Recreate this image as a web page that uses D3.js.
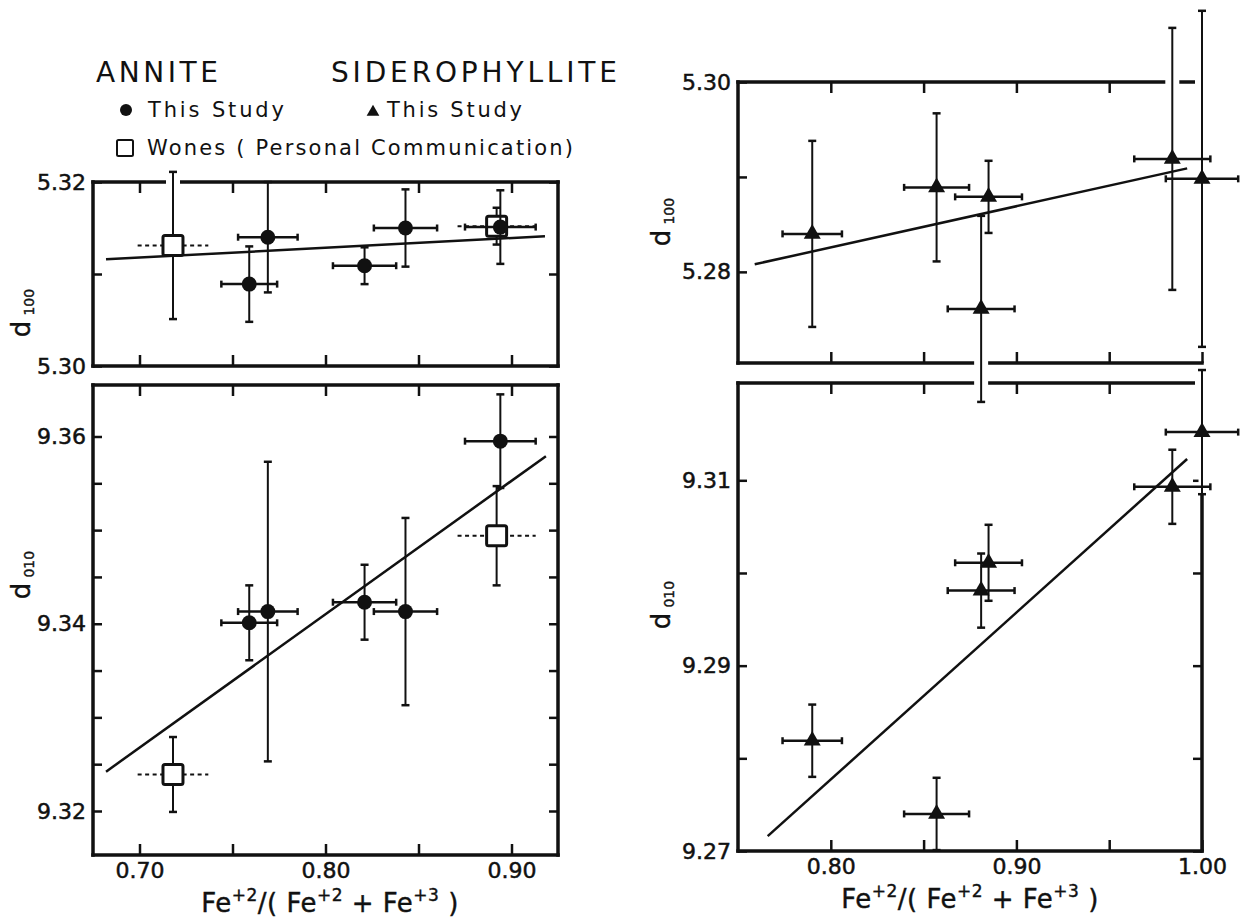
<!DOCTYPE html>
<html>
<head>
<meta charset="utf-8">
<script src="https://cdn.jsdelivr.net/npm/d3@7"></script>
<style>
  html, body { margin: 0; padding: 0; background: #fff; }
  svg { display: block; }
  text { font-family: "DejaVu Sans", sans-serif; fill: #111; }
</style>
</head>
<body>
<svg id="chart" width="1250" height="920"></svg>
<script>
// ---- data ----

// annite, this study (filled circles)
var anniteFe = [0.759, 0.769, 0.821, 0.843, 0.894];
var anniteFeErr = [0.015, 0.016, 0.017, 0.017, 0.019];
var anniteD100 = [5.3089, 5.3140, 5.3109, 5.3150, 5.3151];
var anniteD100Err = [0.0041, 0.0060, 0.0020, 0.0042, 0.0040];
var anniteD010 = [9.3401, 9.3413, 9.3423, 9.3413, 9.3595];
var anniteD010Err = [0.0040, 0.0160, 0.0040, 0.0100, 0.0050];

// annite, Wones personal communication (open squares, dashed x error)
var wonesFe = [0.718, 0.892];
var wonesFeErr = [0.019, 0.021];
var wonesD100 = [5.3131, 5.3152];
var wonesD100Err = [0.0080, 0.0020];
var wonesD010 = [9.3239, 9.3494];
var wonesD010Err = [0.0040, 0.0053];

// siderophyllite, this study (filled triangles)
var sidFe = [0.790, 0.857, 0.881, 0.885, 0.984, 1.000];
var sidFeErr = [0.016, 0.0175, 0.018, 0.018, 0.0205, 0.0195];
var sidD100 = [5.2840, 5.2889, 5.2761, 5.2879, 5.2919, 5.2898];
var sidD100Err = [0.0098, 0.0078, 0.0098, 0.0038, 0.0138, 0.0177];
var sidD010 = [9.2819, 9.2740, 9.2981, 9.3011, 9.3093, 9.3152];
var sidD010Err = [0.0039, 0.0039, 0.0040, 0.0041, 0.0040, 0.0067];

// fitted lines (end points as drawn)
var fitAnniteD100 = [[0.682, 5.3116], [0.918, 5.3141]];
var fitAnniteD010 = [[0.682, 9.3242], [0.9185, 9.3579]];
var fitSidD100 = [[0.759, 5.2808], [0.992, 5.2909]];
var fitSidD010 = [[0.766, 9.2716], [0.992, 9.3123]];

// ticks
var anniteFeTicks = [0.70, 0.75, 0.80, 0.85, 0.90];
var anniteFeLabels = [0.70, 0.80, 0.90];
var sidFeTicks = [0.80, 0.85, 0.90, 0.95, 1.00];
var sidFeLabels = [0.80, 0.90, 1.00];
var anniteD100Ticks = [5.30, 5.31, 5.32];
var anniteD100Labels = [5.30, 5.32];
var anniteD010Ticks = [9.32, 9.325, 9.33, 9.335, 9.34, 9.345, 9.35, 9.355, 9.36];
var anniteD010Labels = [9.32, 9.34, 9.36];
var sidD100Ticks = [5.28, 5.29, 5.30];
var sidD100Labels = [5.28, 5.30];
var sidD010Ticks = [9.27, 9.28, 9.29, 9.30, 9.31];
var sidD010Labels = [9.27, 9.29, 9.31];

// ---- layout ----
var svg = d3.select("#chart");
var ink = "#111";
var fmt = d3.format(".2f");

var frameLayer = svg.append("g").attr("class", "frames");
var haloLayer = svg.append("g").attr("class", "halos");
var dataLayer = svg.append("g").attr("class", "data");

function inList(list, v) {
  return list.some(function (a) { return Math.abs(a - v) < 1e-9; });
}

/*
  drawPanel: frame, inward ticks, labels; returns the scales
*/
function drawPanel(p) {
  var x = d3.scaleLinear().domain(p.xDomain).range([p.left, p.right]);
  var y = d3.scaleLinear().domain(p.yDomain).range([p.bottom, p.top]);

  var g = frameLayer.append("g");

  // ticks (inward) with labels
  var bottomAxis = d3.axisBottom(x)
    .tickValues(p.xTicks)
    .tickSizeInner(-11).tickSizeOuter(0).tickPadding(7)
    .tickFormat(function (d) { return inList(p.xLabels, d) ? fmt(d) : ""; });
  var topAxis = d3.axisTop(x)
    .tickValues(p.xTicks)
    .tickSizeInner(-11).tickSizeOuter(0)
    .tickFormat("");
  var leftAxis = d3.axisLeft(y)
    .tickValues(p.yTicks)
    .tickSizeInner(-9).tickSizeOuter(0).tickPadding(7)
    .tickFormat(function (d) { return inList(p.yLabels, d) ? fmt(d) : ""; });
  var rightAxis = d3.axisRight(y)
    .tickValues(p.yTicks)
    .tickSizeInner(-9).tickSizeOuter(0)
    .tickFormat("");

  var axes = [
    { axis: bottomAxis, t: "translate(0," + p.bottom + ")" },
    { axis: topAxis, t: "translate(0," + p.top + ")" },
    { axis: leftAxis, t: "translate(" + p.left + ",0)" }
  ];
  if (p.rightEdge) axes.push({ axis: rightAxis, t: "translate(" + p.right + ",0)" });

  axes.forEach(function (a) {
    var ga = g.append("g").attr("transform", a.t).call(a.axis);
    ga.select(".domain").remove();
    ga.attr("color", ink).attr("font-family", "DejaVu Sans").attr("font-size", 22);
    ga.selectAll("line").attr("stroke-width", 2.5);
    ga.selectAll("text").attr("fill", ink).attr("stroke", ink).attr("stroke-width", 0.5);
  });

  // frame
  var edges = [
    [p.left, p.top, p.right, p.top],
    [p.left, p.bottom, p.right, p.bottom],
    [p.left, p.top, p.left, p.bottom]
  ];
  if (p.rightEdge) edges.push([p.right, p.top, p.right, p.bottom]);
  g.selectAll("line.edge")
    .data(edges)
    .enter()
    .append("line")
    .attr("class", "edge")
    .attr("x1", function (d) { return d[0]; })
    .attr("y1", function (d) { return d[1]; })
    .attr("x2", function (d) { return d[2]; })
    .attr("y2", function (d) { return d[3]; })
    .attr("stroke", ink)
    .attr("stroke-width", 3.5)
    .attr("stroke-linecap", "square");

  return { x: x, y: y, p: p };
}

/*
  drawSeries: error bars for one set of points (markers added after)
*/
function drawSeries(s, fe, feErr, val, valErr, dashedX) {
  var x = s.x, y = s.y, p = s.p;
  var rows = fe.map(function (d, i) {
    return { fe: d, fe0: d - feErr[i], fe1: d + feErr[i], v: val[i], v0: val[i] - valErr[i], v1: val[i] + valErr[i] };
  });

  // white gaps where bars leave the frame
  rows.forEach(function (r) {
    var xp = x(r.fe);
    if (Math.abs(xp - p.right) < 2) {
      // bar running along the right edge replaces the frame there
      haloLayer.append("line")
        .attr("x1", xp).attr("x2", xp)
        .attr("y1", y(r.v1)).attr("y2", y(r.v0))
        .attr("stroke", "#fff").attr("stroke-width", 7);
    }
    if (y(r.v1) < p.top - 1) {
      haloLayer.append("line")
        .attr("x1", xp).attr("x2", xp)
        .attr("y1", p.top + 2.5).attr("y2", y(r.v1) - 2)
        .attr("stroke", "#fff").attr("stroke-width", 14);
    }
    if (y(r.v0) > p.bottom + 1) {
      haloLayer.append("line")
        .attr("x1", xp).attr("x2", xp)
        .attr("y1", p.bottom - 2.5).attr("y2", y(r.v0) + 2)
        .attr("stroke", "#fff").attr("stroke-width", 14);
    }
  });

  var g = dataLayer.append("g");

  // horizontal error bars
  g.selectAll("line.xerr")
    .data(rows)
    .enter()
    .append("line")
    .attr("x1", function (d) { return x(d.fe0); })
    .attr("x2", function (d) { return x(d.fe1); })
    .attr("y1", function (d) { return y(d.v); })
    .attr("y2", function (d) { return y(d.v); })
    .attr("stroke", ink)
    .attr("stroke-width", dashedX ? 2 : 2.5)
    .attr("stroke-dasharray", dashedX ? "4,3.5" : null);

  if (!dashedX) {
    rows.forEach(function (d) {
      [d.fe0, d.fe1].forEach(function (e) {
        g.append("line")
          .attr("x1", x(e)).attr("x2", x(e))
          .attr("y1", y(d.v) - 3.5).attr("y2", y(d.v) + 3.5)
          .attr("stroke", ink).attr("stroke-width", 2.5);
      });
    });
  }

  // vertical error bars with caps
  g.selectAll("line.yerr")
    .data(rows)
    .enter()
    .append("line")
    .attr("x1", function (d) { return x(d.fe); })
    .attr("x2", function (d) { return x(d.fe); })
    .attr("y1", function (d) { return y(d.v0); })
    .attr("y2", function (d) { return y(d.v1); })
    .attr("stroke", ink)
    .attr("stroke-width", 2);
  rows.forEach(function (d) {
    [d.v0, d.v1].forEach(function (e) {
      g.append("line")
        .attr("x1", x(d.fe) - 4).attr("x2", x(d.fe) + 4)
        .attr("y1", y(e)).attr("y2", y(e))
        .attr("stroke", ink).attr("stroke-width", 2.5);
    });
  });

  return { g: g, rows: rows };
}

function drawMarkers(s, series, marker) {
  var x = s.x, y = s.y;
  var g = series.g;
  if (marker === "circle") {
    g.selectAll("circle.pt")
      .data(series.rows)
      .enter()
      .append("circle")
      .attr("cx", function (d) { return x(d.fe); })
      .attr("cy", function (d) { return y(d.v); })
      .attr("r", 7.5)
      .attr("fill", ink);
  } else if (marker === "square") {
    g.selectAll("rect.pt")
      .data(series.rows)
      .enter()
      .append("rect")
      .attr("x", function (d) { return x(d.fe) - 10; })
      .attr("y", function (d) { return y(d.v) - 10; })
      .attr("width", 20)
      .attr("height", 20)
      .attr("rx", 2)
      .attr("fill", "#fff")
      .attr("stroke", ink)
      .attr("stroke-width", 3);
  } else {
    var tri = d3.symbol().type(d3.symbolTriangle).size(125);
    g.selectAll("path.pt")
      .data(series.rows)
      .enter()
      .append("path")
      .attr("d", tri)
      .attr("transform", function (d) { return "translate(" + x(d.fe) + "," + y(d.v) + ")"; })
      .attr("fill", ink);
  }
}

function drawFit(s, pts) {
  dataLayer.append("path")
    .datum(pts)
    .attr("d", d3.line().x(function (d) { return s.x(d[0]); }).y(function (d) { return s.y(d[1]); }))
    .attr("fill", "none")
    .attr("stroke", ink)
    .attr("stroke-width", 2.5);
}

// ---- panels ----
var upperLeft = drawPanel({
  left: 93, right: 558, top: 182, bottom: 366,
  xDomain: [0.675, 0.925], yDomain: [5.30, 5.32],
  xTicks: anniteFeTicks, xLabels: [],
  yTicks: anniteD100Ticks, yLabels: anniteD100Labels, rightEdge: true
});
var lowerLeft = drawPanel({
  left: 93, right: 558, top: 385, bottom: 855,
  xDomain: [0.675, 0.925], yDomain: [9.3153, 9.3655],
  xTicks: anniteFeTicks, xLabels: anniteFeLabels,
  yTicks: anniteD010Ticks, yLabels: anniteD010Labels, rightEdge: true
});
var upperRight = drawPanel({
  left: 738, right: 1202, top: 82, bottom: 363,
  xDomain: [0.75, 1.00], yDomain: [5.2704, 5.30],
  xTicks: sidFeTicks, xLabels: [],
  yTicks: sidD100Ticks, yLabels: sidD100Labels, rightEdge: false
});
var lowerRight = drawPanel({
  left: 738, right: 1202, top: 383, bottom: 851,
  xDomain: [0.75, 1.00], yDomain: [9.27, 9.3205],
  xTicks: sidFeTicks, xLabels: sidFeLabels,
  yTicks: sidD010Ticks, yLabels: sidD010Labels, rightEdge: true
});

// fits under the points
drawFit(upperLeft, fitAnniteD100);
drawFit(lowerLeft, fitAnniteD010);
drawFit(upperRight, fitSidD100);
drawFit(lowerRight, fitSidD010);

var w100 = drawSeries(upperLeft, wonesFe, wonesFeErr, wonesD100, wonesD100Err, true);
var a100 = drawSeries(upperLeft, anniteFe, anniteFeErr, anniteD100, anniteD100Err, false);
drawMarkers(upperLeft, w100, "square");
drawMarkers(upperLeft, a100, "circle");

var w010 = drawSeries(lowerLeft, wonesFe, wonesFeErr, wonesD010, wonesD010Err, true);
var a010 = drawSeries(lowerLeft, anniteFe, anniteFeErr, anniteD010, anniteD010Err, false);
drawMarkers(lowerLeft, w010, "square");
drawMarkers(lowerLeft, a010, "circle");

var s100 = drawSeries(upperRight, sidFe, sidFeErr, sidD100, sidD100Err, false);
drawMarkers(upperRight, s100, "triangle");
var s010 = drawSeries(lowerRight, sidFe, sidFeErr, sidD010, sidD010Err, false);
drawMarkers(lowerRight, s010, "triangle");

// ---- axis titles ----
function yTitle(xb, yc, sub) {
  var t = svg.append("text")
    .attr("transform", "translate(" + xb + "," + yc + ") rotate(-90)")
    .attr("text-anchor", "middle")
    .attr("font-size", 26)
    .attr("stroke", ink).attr("stroke-width", 0.4);
  t.append("tspan").text("d");
  t.append("tspan").attr("font-size", 14).attr("dx", 5).attr("dy", 4).text(sub);
}
yTitle(30, 313, "100");
yTitle(30, 575, "010");
yTitle(670, 222, "100");
yTitle(670, 605, "010");

function xTitle(xc, yb) {
  var t = svg.append("text")
    .attr("x", xc).attr("y", yb)
    .attr("text-anchor", "middle")
    .attr("font-size", 26)
    .attr("letter-spacing", 0.5)
    .attr("stroke", ink).attr("stroke-width", 0.4);
  var parts = [
    ["Fe", 0], ["+2", -1], ["/( Fe", 1], ["+2", -1], [" + Fe", 1], ["+3", -1], [" )", 1]
  ];
  parts.forEach(function (d) {
    var ts = t.append("tspan").text(d[0]);
    if (d[1] === -1) ts.attr("font-size", 17).attr("dy", -11);
    if (d[1] === 1) ts.attr("dy", 11);
  });
}
xTitle(330, 912);
xTitle(970, 908);

// ---- legend ----
svg.append("text").attr("x", 96).attr("y", 82).attr("font-size", 28)
  .attr("textLength", 122).attr("lengthAdjust", "spacing").text("ANNITE");
svg.append("text").attr("x", 331).attr("y", 82).attr("font-size", 28)
  .attr("textLength", 286).attr("lengthAdjust", "spacing").text("SIDEROPHYLLITE");

svg.append("circle").attr("cx", 126).attr("cy", 110).attr("r", 6).attr("fill", ink);
svg.append("text").attr("x", 148).attr("y", 117).attr("font-size", 21)
  .attr("textLength", 136).attr("lengthAdjust", "spacing").text("This Study");

svg.append("path")
  .attr("d", d3.symbol().type(d3.symbolTriangle).size(70))
  .attr("transform", "translate(373,112)")
  .attr("fill", ink);
svg.append("text").attr("x", 387).attr("y", 117).attr("font-size", 21)
  .attr("textLength", 135).attr("lengthAdjust", "spacing").text("This Study");

svg.append("rect").attr("x", 117).attr("y", 140).attr("width", 16).attr("height", 16)
  .attr("rx", 1.5).attr("fill", "#fff").attr("stroke", ink).attr("stroke-width", 2);
svg.append("text").attr("x", 147).attr("y", 155).attr("font-size", 21)
  .attr("textLength", 426).attr("lengthAdjust", "spacing").text("Wones ( Personal Communication)");
</script>
</body>
</html>
